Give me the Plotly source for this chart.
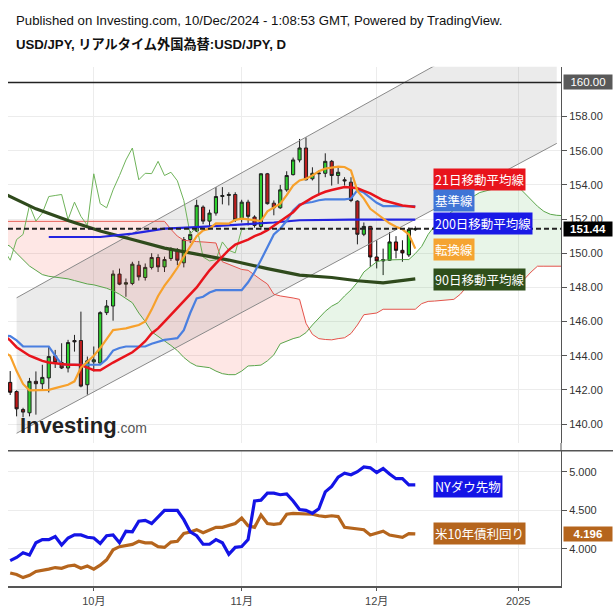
import numpy as np
import pandas as pd
import plotly.graph_objects as go

# ------------------------------------------------------------------ data
candle_dates = pd.bdate_range("2024-09-12", "2024-12-10")
open_ = [142.44, 141.90, 140.85, 140.66, 142.50, 142.36, 142.70, 143.99, 143.60, 143.28, 144.89, 144.89, 142.30,
         143.64, 143.57, 146.52, 146.91, 148.78, 148.19, 148.23, 149.30, 148.58, 149.17, 149.75, 149.20, 149.69,
         150.22, 149.44, 150.80, 151.30, 152.70, 151.88, 152.35, 153.32, 153.38, 153.44,
         152.02, 152.99, 152.12, 151.57, 154.65, 152.93, 152.66, 153.71, 154.60, 155.46, 156.16, 154.36, 154.70,
         154.68, 155.38, 154.55, 154.30, 154.16, 153.05, 151.11, 151.57,
         149.78, 149.55, 149.59, 150.66, 150.17, 149.90, 151.38]
high = [143.10, 141.97, 140.95, 142.70, 143.08, 143.47, 144.54, 144.34, 144.73, 144.93, 145.22, 146.58, 143.95,
        144.54, 146.60, 147.26, 149.00, 149.10, 148.52, 149.50, 149.55, 149.40, 150.00, 149.94, 149.80, 150.35,
        150.30, 150.95, 151.30, 153.13, 152.80, 152.55, 153.87, 153.87, 153.57, 153.57,
        153.13, 153.13, 152.22, 154.68, 154.70, 153.09, 154.00, 154.80, 155.60, 156.69, 156.78, 155.03, 154.84,
        155.85, 155.46, 155.00, 154.45, 154.45, 153.10, 151.80, 151.60,
        150.76, 150.27, 151.24, 151.00, 150.76, 151.50, 151.57]
low = [141.70, 140.45, 140.40, 140.45, 140.55, 142.00, 141.85, 143.28, 143.22, 143.02, 144.24, 142.15, 141.72,
       143.08, 143.55, 146.38, 146.05, 148.13, 147.45, 148.13, 148.40, 148.40, 149.05, 148.90, 148.90, 149.55,
       149.30, 149.17, 150.60, 151.24, 151.70, 151.57, 152.20, 152.86, 152.80, 151.83,
       151.80, 151.63, 151.50, 151.38, 152.85, 152.22, 152.60, 153.60, 154.55, 155.32, 154.26, 154.26, 153.38,
       154.45, 153.96, 154.06, 153.96, 152.99, 150.52, 151.00, 149.20,
       149.11, 148.72, 149.55, 149.70, 149.50, 149.78, 151.30]
close = [141.86, 140.89, 140.70, 142.50, 142.36, 142.73, 143.95, 143.60, 143.28, 144.77, 144.81, 142.22, 143.70,
         143.76, 146.52, 146.91, 148.78, 148.19, 148.27, 149.36, 148.62, 149.17, 149.75, 149.20, 149.63, 150.22,
         149.59, 150.80, 151.10, 152.80, 151.88, 152.35, 153.32, 153.38, 153.44, 151.97,
         152.99, 152.16, 151.63, 154.65, 152.90, 152.66, 153.71, 154.55, 155.46, 156.16, 154.30, 154.68, 154.66,
         155.38, 154.55, 154.74, 154.24, 153.09, 151.11, 151.57, 149.78,
         149.55, 149.62, 150.66, 150.17, 150.02, 151.40, 151.44]

# indicator lines, one value per trading day from 2024-09-11 to 2024-12-10
line_dates = pd.bdate_range("2024-09-11", "2024-12-10")
tenkan = [144.2, 144.0, 143.1, 142.35, 141.97, 141.97, 141.97, 142.0, 142.1, 142.2, 142.3, 142.5, 143.3, 143.65,
          144.0, 144.45, 144.95, 145.5, 145.55, 145.6, 145.7, 145.8, 146.0, 146.7, 147.5, 148.1, 148.6, 149.15,
          149.8, 150.4, 151.0, 151.34, 151.44, 151.75, 151.75, 151.73, 151.95, 152.02, 151.98, 151.93, 151.88,
          152.45, 152.7, 152.9, 153.4, 153.96, 154.26, 154.36, 154.55, 154.8, 154.95, 155.0, 155.07, 155.05,
          154.84, 153.65, 153.2, 152.6, 152.3, 152.0, 151.75, 151.55, 151.4, 151.1, 150.27]
kijun = [145.2, 145.15, 144.9, 144.55, 144.54, 144.54, 144.54, 144.54, 144.0, 143.5, 143.47, 143.47, 143.47,
         143.47, 143.47, 143.47, 143.8, 144.3, 144.45, 144.54, 144.54, 144.54, 144.54, 144.7, 144.8, 144.93,
         144.98, 145.03, 145.5, 146.5, 147.36, 147.45, 147.7, 147.84, 147.84, 147.84, 147.84, 147.84, 148.3,
         148.9, 149.6, 150.4, 151.1, 151.44, 151.9, 152.5, 152.85, 152.95, 153.0, 153.1, 153.15, 153.15, 153.15,
         153.15, 153.2, 153.7, 153.55, 153.25, 152.95, 152.76, 152.76, 152.76, 152.76, 152.76, 152.76]
ma21 = [145.2, 144.9, 144.5, 144.25, 144.0, 143.85, 143.7, 143.6, 143.55, 143.5, 143.47, 143.47, 143.45, 143.3,
        143.15, 143.15, 143.4, 143.6, 143.8, 144.0, 144.2, 144.5, 144.85, 145.3, 145.6, 146.0, 146.4, 146.8,
        147.2, 147.6, 148.0, 148.5, 149.0, 149.4, 149.8, 150.2, 150.5, 150.65, 150.8, 151.0, 151.15, 151.35,
        151.6, 151.85, 152.1, 152.4, 152.8, 153.05, 153.25, 153.45, 153.6, 153.7, 153.8, 153.87, 153.85, 153.8,
        153.65, 153.5, 153.3, 153.1, 153.0, 152.9, 152.8, 152.75, 152.7]

ma90_dates = ["2024-09-11", "2024-09-12", "2024-09-18", "2024-09-25", "2024-10-02", "2024-10-09", "2024-10-16",
              "2024-10-23", "2024-10-30", "2024-11-07", "2024-11-14", "2024-11-21", "2024-11-27", "2024-12-03",
              "2024-12-10"]
ma90 = [153.5, 153.32, 152.6, 151.92, 151.3, 150.8, 150.3, 149.95, 149.6, 149.1, 148.72, 148.58, 148.39, 148.27,
        148.5]
ma200_dates = ["2024-09-20", "2024-10-02", "2024-10-09", "2024-10-16", "2024-10-23", "2024-10-30", "2024-11-08",
               "2024-11-14", "2024-11-26", "2024-12-10"]
ma200 = [150.95, 150.95, 151.15, 151.44, 151.53, 151.63, 151.8, 151.93, 151.97, 151.97]

# ichimoku cloud (shifted 26 bars ahead), trading days 2024-09-11 .. 2025-01-10
cloud_dates = pd.bdate_range("2024-09-11", "2025-01-10")
span_a = [150.6, 150.4, 150.0, 149.6, 149.25, 149.0, 148.75, 148.65, 148.6, 148.55, 148.5, 148.4, 148.3, 148.2,
          148.15, 148.05, 147.95, 147.8, 147.6, 147.35, 147.1, 146.5, 146.0, 145.4, 145.15, 144.9, 144.6, 144.3,
          143.9, 143.6, 143.4, 143.35, 143.3, 143.1, 142.95, 142.89, 142.89, 143.1, 143.4, 143.42, 143.45, 143.7,
          144.05, 144.7, 144.85, 145.0, 145.1, 145.35, 145.8, 146.2, 146.6, 146.9, 147.1, 147.5, 147.85, 148.3,
          148.9, 149.2, 149.5, 149.6, 149.62, 149.62, 149.63, 149.63, 149.98, 150.4, 151.1, 151.6, 151.9, 152.25,
          152.55, 152.85, 153.09, 153.3, 153.55, 153.65, 153.75, 153.85, 153.9, 153.95, 153.9, 153.5, 153.1,
          152.75, 152.45, 152.28, 152.22, 152.2]
span_b = [151.87] * 26 + [151.4, 151.0, 150.76, 150.7, 150.68, 150.66, 150.62, 150.6, 149.5, 149.35, 149.2,
          149.05, 149.0, 148.7, 148.45, 148.2, 147.6, 147.5, 147.45, 147.38, 147.3, 145.9, 145.25, 145.0, 144.95,
          144.93, 145.0, 145.05, 145.3, 145.8, 146.4, 146.45, 146.5, 146.72, 146.72, 146.72, 146.72, 146.72,
          146.72, 147.05, 147.18, 147.2, 147.22, 147.25, 147.3, 147.6, 148.04, 148.1, 148.15, 148.2, 148.25, 148.3,
          148.35, 148.4, 148.45, 148.5, 148.9, 149.24, 149.24, 149.24, 149.24, 149.24]
chikou_shift = 26

# regression channel end points
channel_dates = ["2024-09-13", "2025-01-09"]
channel_upper = [147.39, 164.95]
channel_lower = [139.46, 156.43]

last_price = 151.44
level_line = 160.00

# lower panel
ny_dow = [41550, 41670, 41850, 41760, 42240, 42360, 42360, 42480, 42150, 42420, 42540, 42540, 42450,
          42420, 42210, 42510, 42540, 42240, 42680, 42660, 43070, 43100, 42980, 43250, 43490, 43490,
          43490, 43130, 42660, 42510, 42180, 42180, 42360, 42240, 41790, 42060,
          42090, 42360, 43850, 43880, 44150, 44150, 44090, 44120, 43850, 43520, 43490, 43370, 43550,
          44200, 44410, 44770, 44920, 44860, 44980, 45160, 45130,
          44950, 45100, 44890, 44710, 44710, 44470, 44470]
us10y = [3.69, 3.67, 3.63, 3.66, 3.71, 3.72, 3.74, 3.76, 3.75, 3.78, 3.79, 3.75, 3.78,
         3.74, 3.79, 3.86, 3.99, 4.03, 4.04, 4.06, 4.10, 4.08, 4.08, 4.03, 4.02, 4.09,
         4.10, 4.20, 4.22, 4.25, 4.21, 4.25, 4.28, 4.28, 4.31, 4.33,
         4.40, 4.30, 4.28, 4.44, 4.33, 4.32, 4.33, 4.45, 4.46, 4.46, 4.45, 4.45, 4.43,
         4.42, 4.43, 4.42, 4.28, 4.27, 4.26, 4.25, 4.18,
         4.20, 4.23, 4.18, 4.17, 4.15, 4.20, 4.196]
dow_axis = [40580, 45790]
yield_axis = [3.525, 5.272]

month_ticks = ["2024-10-01", "2024-11-01", "2024-12-02", "2025-01-01"]
month_labels = ["10月", "11月", "12月", "2025"]

# ------------------------------------------------------------------ bar index axis
all_days = pd.bdate_range("2024-09-02", "2025-01-31")
origin = all_days.get_loc(pd.Timestamp("2024-10-01"))


def bx(ds):
    return [all_days.get_loc(pd.Timestamp(d)) - origin for d in ds]


x_c = bx(candle_dates)
x_l = bx(line_dates)
x_cloud = bx(cloud_dates)
x_range = [-13.34, 72.66]
y_range = [138.89, 160.92]

XL, XR = 8 / 613, 561 / 613
Y1 = [(613 - 443) / 613, (613 - 66.7) / 613]
Y2 = [(613 - 585.7) / 613, (613 - 450.7) / 613]

SANS = "Liberation Sans, Arial, sans-serif"
JP = "Noto Sans CJK JP, sans-serif"

fig = go.Figure()


def cloud_runs(x, a, b):
    out = []
    xs, ua, ub = [x[0]], [a[0]], [b[0]]
    sign = a[0] >= b[0]
    for i in range(1, len(x)):
        s = a[i] >= b[i]
        if s != sign:
            d0 = a[i - 1] - b[i - 1]
            d1 = a[i] - b[i]
            t = d0 / (d0 - d1)
            xc = x[i - 1] + t * (x[i] - x[i - 1])
            yc = a[i - 1] + t * (a[i] - a[i - 1])
            xs.append(xc); ua.append(yc); ub.append(yc)
            out.append((sign, xs, ua, ub))
            xs, ua, ub = [xc], [yc], [yc]
            sign = s
        xs.append(x[i]); ua.append(a[i]); ub.append(b[i])
    out.append((sign, xs, ua, ub))
    return out


for sign, xs, ua, ub in cloud_runs(x_cloud, span_a, span_b):
    fig.add_trace(go.Scatter(x=xs + xs[::-1], y=ua + ub[::-1], fill="toself", mode="none",
                             fillcolor="rgba(76,175,80,0.13)" if sign else "rgba(244,67,54,0.13)",
                             hoverinfo="skip"))

# regression channel
cx = bx(channel_dates)
fig.add_trace(go.Scatter(x=[cx[0], cx[1], cx[1], cx[0]],
                         y=[channel_upper[0], channel_upper[1], channel_lower[1], channel_lower[0]],
                         fill="toself", mode="none", fillcolor="rgba(120,120,120,0.15)", hoverinfo="skip"))
for yy in (channel_upper, channel_lower):
    fig.add_trace(go.Scatter(x=cx, y=yy, mode="lines", line=dict(color="#8a8a8a", width=1)))

# cloud edges
fig.add_trace(go.Scatter(x=x_cloud, y=span_b, mode="lines", line=dict(color="#e5534b", width=1)))
fig.add_trace(go.Scatter(x=x_cloud, y=span_a, mode="lines", line=dict(color="#5aa54a", width=1)))
# chikou span
fig.add_trace(go.Scatter(x=[v - chikou_shift for v in x_c], y=close, mode="lines",
                         line=dict(color="#6fb35a", width=1)))

fig.add_trace(go.Scatter(x=bx(ma90_dates), y=ma90, mode="lines", line=dict(color="#2f4a1c", width=3.2)))
fig.add_trace(go.Scatter(x=bx(ma200_dates), y=ma200, mode="lines", line=dict(color="#2424e0", width=2.2)))
fig.add_trace(go.Scatter(x=x_l, y=kijun, mode="lines", line=dict(color="#4a7fe0", width=2.2)))
fig.add_trace(go.Scatter(x=x_l, y=ma21, mode="lines", line=dict(color="#e8141c", width=2.5)))
fig.add_trace(go.Scatter(x=x_l, y=tenkan, mode="lines", line=dict(color="#f7a12c", width=2.2)))

fig.add_trace(go.Candlestick(x=x_c, open=open_, high=high, low=low, close=close,
                             increasing=dict(fillcolor="#22e022", line=dict(color="#111111", width=1)),
                             decreasing=dict(fillcolor="#c80f0f", line=dict(color="#111111", width=1)),
                             whiskerwidth=0, xaxis="x", yaxis="y"))

# lower panel
fig.add_trace(go.Scatter(x=x_c, y=ny_dow, mode="lines", line=dict(color="#1414e6", width=3.2),
                         xaxis="x2", yaxis="y3"))
fig.add_trace(go.Scatter(x=x_c, y=us10y, mode="lines", line=dict(color="#b5651d", width=3.2),
                         xaxis="x2", yaxis="y2"))

shapes = [
    dict(type="line", xref="paper", yref="y", x0=XL, x1=XR, y0=level_line, y1=level_line,
         line=dict(color="#222", width=1.5), layer="above"),
    dict(type="line", xref="paper", yref="y", x0=XL, x1=XR, y0=last_price, y1=last_price,
         line=dict(color="#222", width=2, dash="5px,3px"), layer="above"),
    dict(type="line", xref="paper", yref="paper", x0=XL, x1=1.0, y0=Y2[1], y1=Y2[1],
         line=dict(color="#555", width=1.5)),
    dict(type="line", xref="paper", yref="paper", x0=XR, x1=XR, y0=Y2[1], y1=Y1[0],
         line=dict(color="#555", width=1)),
]

grid = "#ececec"
axis_font = dict(family=SANS, size=11, color="#333")
fig.update_layout(
    width=613, height=613, margin=dict(l=0, r=0, t=0, b=0),
    paper_bgcolor="white", plot_bgcolor="white", showlegend=False,
    xaxis=dict(domain=[XL, XR], range=x_range, anchor="y", tickvals=bx(month_ticks), showticklabels=False,
               showgrid=True, gridcolor=grid, zeroline=False, rangeslider=dict(visible=False), ticks=""),
    yaxis=dict(domain=Y1, range=y_range, anchor="x", side="right", tickvals=list(range(140, 160, 2)),
               tickformat=".2f", ticks="outside", ticklen=5, tickcolor="#555", showline=True,
               linecolor="#555", linewidth=1, gridcolor=grid, zeroline=False, tickfont=axis_font),
    xaxis2=dict(domain=[XL, XR], range=x_range, anchor="y2", tickvals=bx(month_ticks), ticktext=month_labels,
                showgrid=True, gridcolor=grid, zeroline=False, showline=True, linecolor="#555", linewidth=1.5,
                ticks="outside", ticklen=4, tickcolor="#555",
                tickfont=dict(family=SANS + ", Noto Sans CJK JP", size=11, color="#444")),
    yaxis2=dict(domain=Y2, range=yield_axis, anchor="x2", side="right", tickvals=[4.0, 4.5, 5.0],
                tickformat=".3f", ticks="outside", ticklen=5, tickcolor="#555", showline=True,
                linecolor="#555", linewidth=1, gridcolor=grid, zeroline=False, tickfont=axis_font),
    yaxis3=dict(overlaying="y2", range=dow_axis, anchor="x2", visible=False),
    shapes=shapes,
)

ann = []


def ypix(p):
    return (613 - p) / 613


def tag(text, ypx, bg, xpix=433, size=12.5):
    ann.append(dict(x=xpix / 613, xref="paper", y=ypix(ypx), yref="paper", text=text, showarrow=False,
                    xanchor="left", yanchor="middle", bgcolor=bg, borderpad=1,
                    font=dict(family=JP, size=size, color="white")))


tag("21日移動平均線", 179.2, "#e8141c")
tag("基準線", 200.8, "#3f74d6")
tag("200日移動平均線", 223.3, "#1a1ae6")
tag("転換線", 250, "#f5a431")
tag("90日移動平均線", 279.2, "#2f4f1a")
tag("NYダウ先物", 486, "#1414e6")
tag("米10年債利回り", 533.3, "#b5651d")


def axis_box(text, y, bg, yref="y", bold=False):
    ann.append(dict(x=563 / 613, xref="paper", y=y, yref=yref, text=("<b>%s</b>" % text) if bold else text,
                    showarrow=False, xanchor="left", yanchor="middle", bgcolor=bg, borderpad=1, width=46,
                    align="center", font=dict(family=SANS, size=11.5, color="white")))


axis_box("%.2f" % level_line, level_line, "#595959")
axis_box("%.2f" % last_price, last_price, "#000000", bold=True)
axis_box("%.3f" % us10y[-1], us10y[-1], "#b5651d", yref="y2", bold=True)

ann.append(dict(x=14 / 613, xref="paper", y=ypix(20), yref="paper", xanchor="left", yanchor="middle",
                showarrow=False, text="Published on Investing.com, 10/Dec/2024 - 1:08:53 GMT, Powered by TradingView.",
                font=dict(family=SANS, size=13.2, color="#111")))
ann.append(dict(x=14 / 613, xref="paper", y=ypix(44), yref="paper", xanchor="left", yanchor="middle",
                showarrow=False, text="<b>USD/JPY, リアルタイム外国為替:USD/JPY, D</b>",
                font=dict(family=SANS + ", Noto Sans CJK JP", size=13.2, color="#111")))
ann.append(dict(x=18 / 613, xref="paper", y=ypix(425), yref="paper", xanchor="left", yanchor="middle",
                showarrow=False,
                text="<b>Investing</b><span style='font-size:14px;color:#555'>.com</span>",
                font=dict(family=SANS, size=22, color="#222")))
fig.update_layout(annotations=ann)

fig.write_html("out.html", config={"displayModeBar": False},
               post_script="document.body.style.margin='0px';")
